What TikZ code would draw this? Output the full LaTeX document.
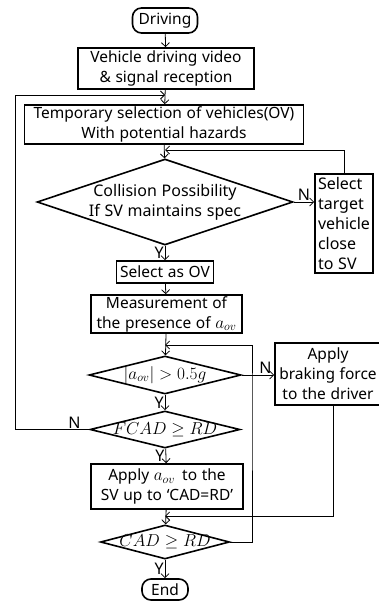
\documentclass[tikz,border=0pt]{standalone}
\usepackage{amsmath}
\usepackage{amssymb}
\usepackage{fontspec}
\setmainfont{Noto Sans}[WordSpace={1.15,1,1}]
\usetikzlibrary{shapes.geometric}
\usetikzlibrary{arrows.meta}
\tikzset{%
    blk/.style={draw,line width=1.6pt,align=center,inner sep=0pt,font=\fontsize{15.5}{20}\selectfont}
}

\begin{document}
\begin{tikzpicture}[
                x=1pt, y=-1pt,
                >={Straight Barb[length=4pt,width=8pt]},
                lnk/.style={line width=0.8pt},
                trm/.style={blk,rounded corners=9pt},
                dcs/.style={diamond,draw,line width=1.6pt,inner sep=0pt},
                yn/.style={inner sep=1pt,font=\fontsize{16}{16}\selectfont},
                mth/.style={font=\fontsize{17}{20}\selectfont}
            ]
            \useasboundingbox (0,0) rectangle (379,601);
            \node[trm,minimum width=65pt,minimum height=25pt] (drv) at (165,20.5){Driving};
            \node[blk,minimum width=176pt,minimum height=41pt] (rcv) at (166,68.5){Vehicle driving video\\\& signal reception};
            \node[blk,minimum width=279pt,minimum height=39pt] (tmp) at (164,124.5){Temporary selection of vehicles(OV)\\With potential hazards};
            \node[dcs,minimum width=256pt,minimum height=86pt,
                label={[align=center,font=\fontsize{16}{20}\selectfont]center:{Collision Possibility\\If SV maintains spec}}] (col) at (165,202){};
            \node[blk,align=left,minimum width=58pt,minimum height=99pt,font=\fontsize{16}{20}\selectfont] (sel) at (344,223.5){Select\\target\\vehicle\\close\\to SV};
            \node[blk,minimum width=97pt,minimum height=22pt] (ov) at (165,272){Select as OV};
            \node[blk,minimum width=151pt,minimum height=38pt] (msr) at (166.5,314){Measurement of\\the presence of {\fontsize{18}{20}\selectfont$a_{ov}$}};
            \node[dcs,minimum width=152pt,minimum height=38pt,
                label={[mth]center:{$|a_{ov}|>0.5g$}}] (acc) at (165,375){};
            \node[blk,minimum width=106pt,minimum height=62pt] (brk) at (328,374){Apply\\braking force\\to the driver};
            \node[dcs,minimum width=150pt,minimum height=37pt,
                label={[mth]center:{$FCAD\geq RD$}}] (fcad) at (165,429.5){};
            \node[blk,minimum width=152pt,minimum height=45pt] (app) at (167,486.5){Apply {\fontsize{18}{20}\selectfont$a_{ov}$}\, to the\\SV up to `CAD=RD'};
            \node[dcs,minimum width=129pt,minimum height=34pt,
                label={[mth]center:{$CAD\geq RD$}}] (cad) at (165,542){};
            \node[trm,minimum width=46pt,minimum height=21pt] (end) at (165,589.5){End};

            \coordinate (j1) at (165,95);
            \coordinate (j2) at (165,150);
            \coordinate (j3) at (165,345);
            \coordinate (j4) at (165,516);

            \draw[lnk,->] (drv) -- (rcv);
            \draw[lnk,->] (rcv) -- (tmp);
            \draw[lnk,->] (tmp) -- (col);
            \draw[lnk,->] (col) -- node[yn,left]{Y}(ov);
            \draw[lnk,->] (col.east) -- node[yn,above]{N}(sel.west |- col.east);
            \draw[lnk,->] (sel.north) |- (j2);
            \draw[lnk,->] (ov) -- (msr);
            \draw[lnk,->] (msr) -- (acc);
            \draw[lnk,->] (acc.east) -- node[yn,above right]{N}(brk.west |- acc.east);
            \draw[lnk,->] (acc) -- node[yn,left]{Y}(fcad);
            \draw[lnk,->] (fcad.west) -- node[yn,above,pos=0.2]{N}(15,429.5) |- (j1);
            \draw[lnk,->] (fcad) -- node[yn,left]{Y}(app);
            \draw[lnk,->] (app) -- (cad);
            \draw[lnk,->] ([xshift=5pt]brk.south) |- (j4);
            \draw[lnk,->] (cad.east) -| (252,400) |- (j3);
            \draw[lnk,->] (cad) -- node[yn,left]{Y}(end);
        \end{tikzpicture}
\end{document}
